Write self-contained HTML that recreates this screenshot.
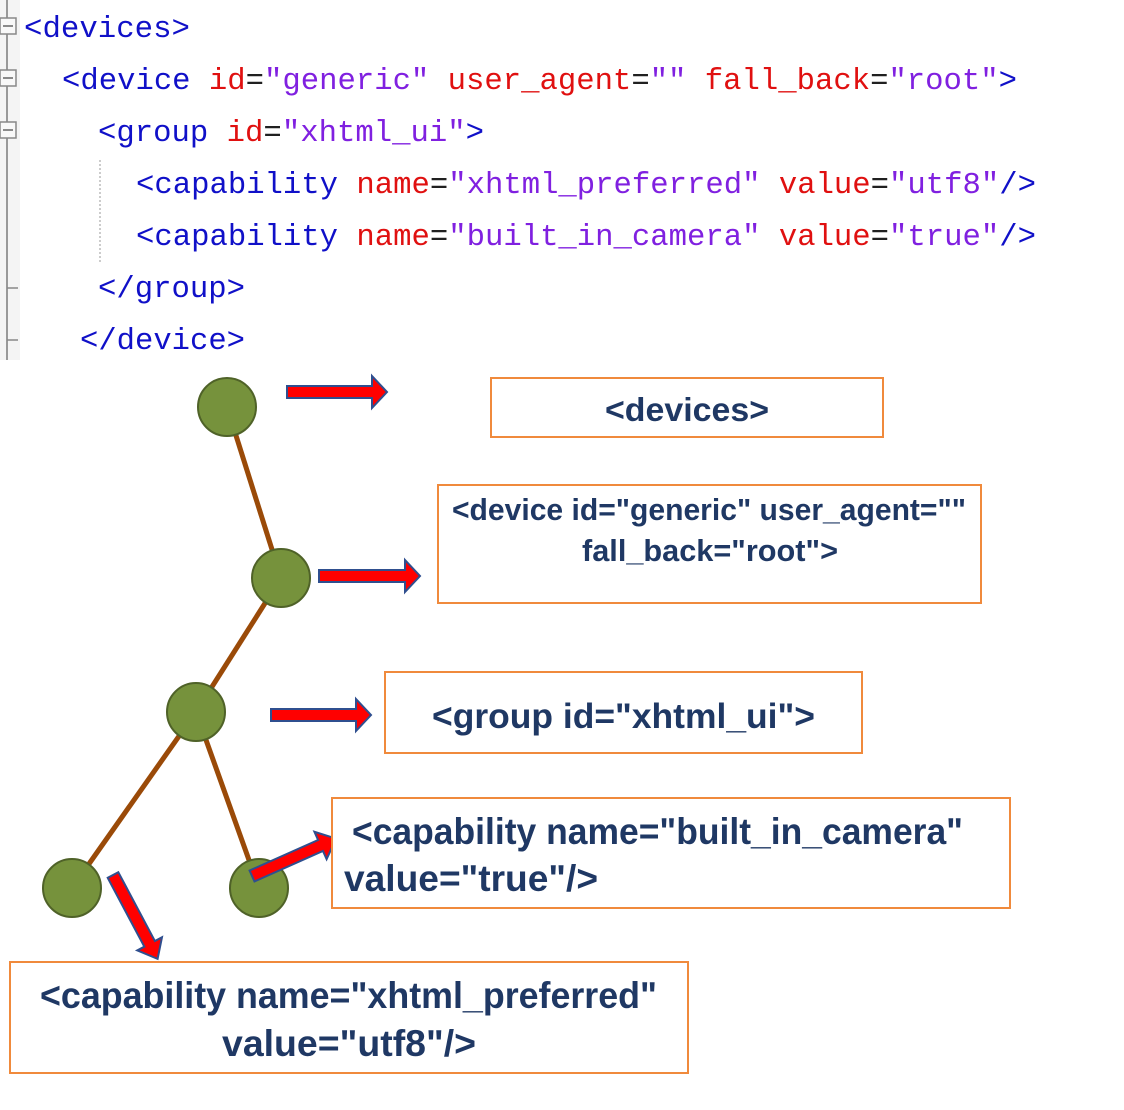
<!DOCTYPE html>
<html><head><meta charset="utf-8"><style>
html,body{margin:0;padding:0;background:#fff;}
svg{display:block;}
.c{font-family:"Liberation Mono",monospace;font-size:31px;}
.t{fill:#1010c8}.a{fill:#e01010}.v{fill:#8020e0}.e{fill:#202020}
.d{font-family:"Liberation Sans",sans-serif;font-weight:bold;fill:#1f3864;}
</style></head><body>
<svg width="1124" height="1110" viewBox="0 0 1124 1110" xmlns="http://www.w3.org/2000/svg">
<rect x="0" y="0" width="20" height="360" fill="#f4f4f4"/>
<line x1="7" y1="0" x2="7" y2="360" stroke="#999" stroke-width="2"/>
<rect x="0" y="18" width="16" height="16" fill="#f8f8f8" stroke="#888" stroke-width="1.5"/>
<line x1="3" y1="26" x2="13" y2="26" stroke="#666" stroke-width="1.5"/>
<rect x="0" y="70" width="16" height="16" fill="#f8f8f8" stroke="#888" stroke-width="1.5"/>
<line x1="3" y1="78" x2="13" y2="78" stroke="#666" stroke-width="1.5"/>
<rect x="0" y="122" width="16" height="16" fill="#f8f8f8" stroke="#888" stroke-width="1.5"/>
<line x1="3" y1="130" x2="13" y2="130" stroke="#666" stroke-width="1.5"/>
<line x1="7" y1="288" x2="18" y2="288" stroke="#888" stroke-width="1.5"/>
<line x1="7" y1="340" x2="18" y2="340" stroke="#888" stroke-width="1.5"/>
<line x1="100" y1="160" x2="100" y2="262" stroke="#bbb" stroke-width="1.5" stroke-dasharray="2,2"/>

<text class="c" x="24" y="37" textLength="166" lengthAdjust="spacingAndGlyphs"><tspan class="t">&lt;devices&gt;</tspan></text>
<text class="c" x="62" y="89" textLength="955" lengthAdjust="spacingAndGlyphs"><tspan class="t">&lt;device </tspan><tspan class="a">id</tspan><tspan class="e">=</tspan><tspan class="v">"generic"</tspan><tspan class="a"> user_agent</tspan><tspan class="e">=</tspan><tspan class="v">""</tspan><tspan class="a"> fall_back</tspan><tspan class="e">=</tspan><tspan class="v">"root"</tspan><tspan class="t">&gt;</tspan></text>
<text class="c" x="98" y="141" textLength="386" lengthAdjust="spacingAndGlyphs"><tspan class="t">&lt;group </tspan><tspan class="a">id</tspan><tspan class="e">=</tspan><tspan class="v">"xhtml_ui"</tspan><tspan class="t">&gt;</tspan></text>
<text class="c" x="136" y="193" textLength="900" lengthAdjust="spacingAndGlyphs"><tspan class="t">&lt;capability </tspan><tspan class="a">name</tspan><tspan class="e">=</tspan><tspan class="v">"xhtml_preferred"</tspan><tspan class="a"> value</tspan><tspan class="e">=</tspan><tspan class="v">"utf8"</tspan><tspan class="t">/&gt;</tspan></text>
<text class="c" x="136" y="245" textLength="900" lengthAdjust="spacingAndGlyphs"><tspan class="t">&lt;capability </tspan><tspan class="a">name</tspan><tspan class="e">=</tspan><tspan class="v">"built_in_camera"</tspan><tspan class="a"> value</tspan><tspan class="e">=</tspan><tspan class="v">"true"</tspan><tspan class="t">/&gt;</tspan></text>
<text class="c" x="98" y="297" textLength="147" lengthAdjust="spacingAndGlyphs"><tspan class="t">&lt;/group&gt;</tspan></text>
<text class="c" x="80" y="349" textLength="165" lengthAdjust="spacingAndGlyphs"><tspan class="t">&lt;/device&gt;</tspan></text>

<g stroke="#9a4a08" stroke-width="5">
<line x1="227" y1="407" x2="281" y2="578"/>
<line x1="281" y1="578" x2="196" y2="712"/>
<line x1="196" y1="712" x2="72" y2="888"/>
<line x1="196" y1="712" x2="259" y2="888"/>
</g>
<g fill="#76923c" stroke="#4f6228" stroke-width="2">
<circle cx="227" cy="407" r="29"/>
<circle cx="281" cy="578" r="29"/>
<circle cx="196" cy="712" r="29"/>
<circle cx="72" cy="888" r="29"/>
<circle cx="259" cy="888" r="29"/>
</g>
<g fill="#ff0000" stroke="#2f4f8f" stroke-width="2">
<polygon points="287,386 372,386 372,376 387,392 372,408 372,398 287,398"/>
<polygon points="319,570 405,570 405,560 420,576 405,592 405,582 319,582"/>
<polygon points="271,709 356,709 356,699 371,715 356,731 356,721 271,721"/>
<polygon points="0,-6 75,-6 75,-15 92,0 75,15 75,6 0,6" transform="translate(252,876) rotate(-24)"/>
<polygon points="0,-6 78,-6 78,-14 95,0 78,14 78,6 0,6" transform="translate(113,875) rotate(62)"/>
</g>

<g fill="#fff" stroke="#f08a3c" stroke-width="2">
<rect x="491" y="378" width="392" height="59"/>
<rect x="438" y="485" width="543" height="118"/>
<rect x="385" y="672" width="477" height="81"/>
<rect x="332" y="798" width="678" height="110"/>
<rect x="10" y="962" width="678" height="111"/>
</g>
<text class="d" x="605" y="421" font-size="33" textLength="164" lengthAdjust="spacingAndGlyphs">&lt;devices&gt;</text>
<text class="d" x="452" y="520" font-size="31" textLength="514" lengthAdjust="spacingAndGlyphs">&lt;device id="generic" user_agent=""</text>
<text class="d" x="582" y="561" font-size="31" textLength="256" lengthAdjust="spacingAndGlyphs">fall_back="root"&gt;</text>
<text class="d" x="432" y="728" font-size="35" textLength="383" lengthAdjust="spacingAndGlyphs">&lt;group id="xhtml_ui"&gt;</text>
<text class="d" x="352" y="844" font-size="37" textLength="611" lengthAdjust="spacingAndGlyphs">&lt;capability name="built_in_camera"</text>
<text class="d" x="344" y="891" font-size="37" textLength="254" lengthAdjust="spacingAndGlyphs">value="true"/&gt;</text>
<text class="d" x="40" y="1008" font-size="37" textLength="617" lengthAdjust="spacingAndGlyphs">&lt;capability name="xhtml_preferred"</text>
<text class="d" x="222" y="1056" font-size="37" textLength="254" lengthAdjust="spacingAndGlyphs">value="utf8"/&gt;</text>
</svg>
</body></html>
